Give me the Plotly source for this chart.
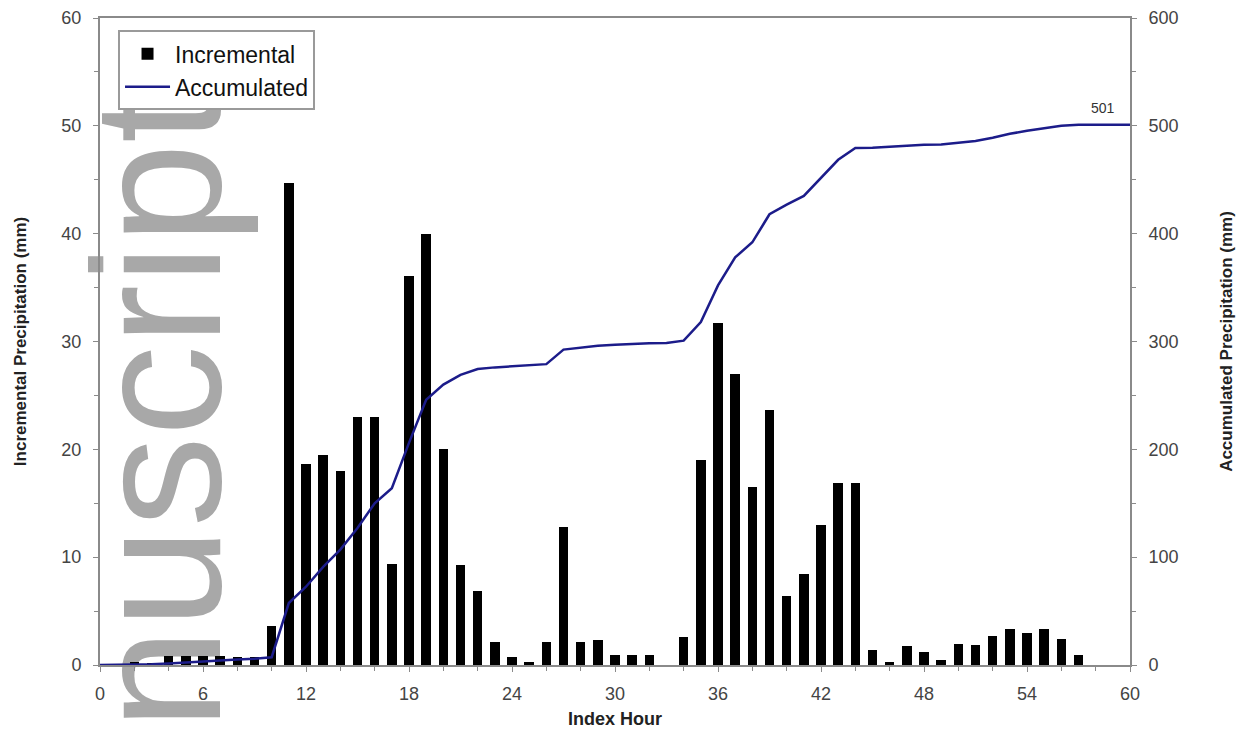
import plotly.graph_objects as go

hours = list(range(0, 61))

incremental = [0, 0, 0.3, 0.2, 0.85, 0.85, 0.85, 0.85, 0.7, 0.7, 3.6,
               44.7, 18.6, 19.5, 18.0, 23.0, 23.0, 9.4, 36.1, 40.0, 20.0,
               9.3, 6.85, 2.15, 0.7, 0.3, 2.15, 12.8, 2.15, 2.3, 0.9,
               0.9, 0.9, 0, 2.6, 19.0, 31.7, 27.0, 16.5, 23.65, 6.4,
               8.45, 13.0, 16.85, 16.9, 1.4, 0.3, 1.75, 1.2, 0.45, 1.95,
               1.9, 2.65, 3.3, 2.95, 3.3, 2.4, 0.95, 0, 0, 0]

accumulated = [0, 0, 0.5, 0.7, 1.5, 2.5, 3.3, 4.2, 5.0, 5.8, 7.2,
               57.5, 72.6, 91, 107, 127, 150, 164, 206, 246, 260,
               269, 274.5, 276, 277, 278, 279, 292.5, 294.5, 296, 297,
               297.8, 298.4, 298.6, 300.8, 318, 352, 378, 392, 418, 427,
               435, 452, 468.5, 479.5, 479.6, 480.5, 481.5, 482.4, 482.6, 484,
               486, 489, 492.6, 495.4, 498, 500, 501, 501, 501, 501]

final_label = "501"
final_pos = (58.4, 517)

x_ticks = [0, 6, 12, 18, 24, 30, 36, 42, 48, 54, 60]

fig = go.Figure()
fig.add_trace(go.Bar(x=hours, y=incremental, name="Incremental",
                     marker=dict(color="black", line=dict(width=0)),
                     width=0.55, yaxis="y"))
fig.add_trace(go.Scatter(x=hours, y=accumulated, name="Accumulated", mode="lines",
                         line=dict(color="#1c1c8a", width=2.5), yaxis="y2"))

font_fam = "Liberation Sans, Arial, sans-serif"
gray = "#8a8a8a"

fig.update_layout(
    width=1248, height=735,
    margin=dict(l=92, r=126, t=10, b=78, autoexpand=False),
    paper_bgcolor="white", plot_bgcolor="rgba(0,0,0,0)",
    font=dict(family=font_fam, color="#333"),
    bargap=0,
    showlegend=True,
    legend=dict(x=0.0175, y=0.981, xanchor="left", yanchor="top",
                bgcolor="white", bordercolor="#9a9a9a", borderwidth=2,
                font=dict(size=23, color="#111"), tracegroupgap=0,
                itemwidth=45),
    xaxis=dict(range=[0, 60], tickvals=x_ticks, ticktext=[str(v) for v in x_ticks],
               showgrid=False, zeroline=False, automargin=False,
               showline=True, linecolor=gray, linewidth=2, mirror=True,
               ticks="outside", ticklen=5, tickcolor=gray,
               minor=dict(dtick=2, ticks="outside", ticklen=4, tickcolor=gray),
               tickfont=dict(size=18, color="#444"), ticklabelstandoff=6,
               title=dict(text="<b>Index Hour</b>", font=dict(size=18, color="#222"), standoff=10)),
    yaxis=dict(range=[0, 60], dtick=10, showgrid=False, zeroline=False, automargin=False,
               showline=True, linecolor=gray, linewidth=2,
               ticks="outside", ticklen=5, tickcolor=gray,
               minor=dict(dtick=5, ticks="outside", ticklen=4, tickcolor=gray),
               tickfont=dict(size=18, color="#444"), ticklabelstandoff=8,
               title=dict(text="<b>Incremental Precipitation (mm)</b>", font=dict(size=17, color="#222"), standoff=30)),
    yaxis2=dict(range=[0, 600], dtick=100, overlaying="y", side="right",
                showgrid=False, zeroline=False, automargin=False,
                showline=True, linecolor=gray, linewidth=2,
                ticks="outside", ticklen=5, tickcolor=gray,
                minor=dict(dtick=50, ticks="outside", ticklen=4, tickcolor=gray),
                tickfont=dict(size=18, color="#444"), ticklabelstandoff=8,
                title=dict(text="<b>Accumulated Precipitation (mm)</b>", font=dict(size=17, color="#222"), standoff=42)),
)

fig.add_annotation(x=final_pos[0], y=final_pos[1], xref="x", yref="y2", text=final_label,
                   showarrow=False, font=dict(size=14, color="#333"))

# watermark, drawn beneath the data
fig.add_shape(type="rect", xref="paper", yref="paper",
              x0=-0.0097, x1=0.0874, y0=0.3153, y1=0.4699,
              line=dict(width=0), fillcolor="rgba(0,0,0,0)", layer="below",
              label=dict(text="nuscript", textangle=-90, textposition="middle center",
                         font=dict(size=182, color="#a8a8a8", family="Liberation Sans, Arial, sans-serif")))

fig.write_html("out.html")
